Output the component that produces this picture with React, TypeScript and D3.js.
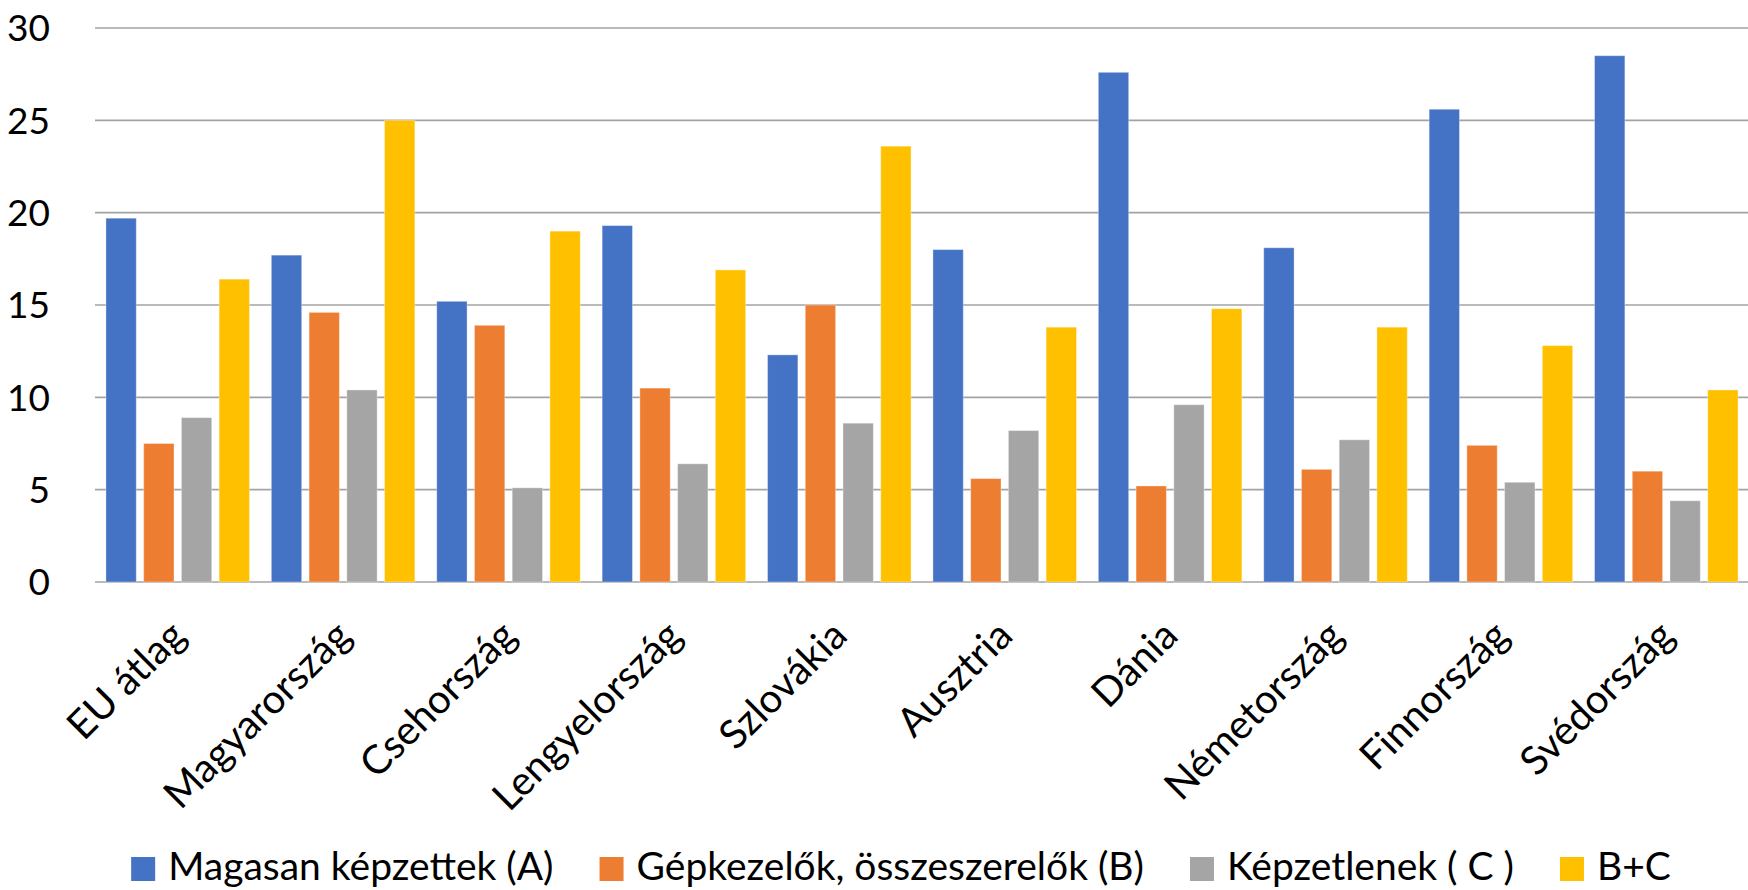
import React, { useEffect, useRef } from 'react';
import * as d3 from 'd3';

const categories = ['EU átlag', 'Magyarország', 'Csehország', 'Lengyelország', 'Szlovákia', 'Ausztria', 'Dánia', 'Németország', 'Finnország', 'Svédország'];
const seriesNames = ['Magasan képzettek (A)', 'Gépkezelők, összeszerelők (B)', 'Képzetlenek ( C )', 'B+C'];
const seriesA = [19.7, 17.7, 15.2, 19.3, 12.3, 18.0, 27.6, 18.1, 25.6, 28.5];
const seriesB = [7.5, 14.6, 13.9, 10.5, 15.0, 5.6, 5.2, 6.1, 7.4, 6.0];
const seriesC = [8.9, 10.4, 5.1, 6.4, 8.6, 8.2, 9.6, 7.7, 5.4, 4.4];
const seriesBC = [16.4, 25.0, 19.0, 16.9, 23.6, 13.8, 14.8, 13.8, 12.8, 10.4];
const yTicks = [0, 5, 10, 15, 20, 25, 30];
const colors = ['#4472C4', '#ED7D31', '#A5A5A5', '#FFC000'];

const W = 1748;
const H = 890;
const FONT = 'Lato, "Open Sans", sans-serif';

export default function App() {
  const ref = useRef<SVGSVGElement>(null);

  useEffect(() => {
    document.body.style.margin = '0';
    const svg = d3.select(ref.current);
    svg.selectAll('*').remove();

    const left = 95, right = 1749, top = 28, bottom = 582;
    const y = d3.scaleLinear().domain([0, 30]).range([bottom, top]);
    const x0 = d3.scaleBand<string>().domain(categories).range([left, right]).padding(0);
    const x1 = d3.scaleBand<string>().domain(seriesNames).range([0, x0.bandwidth()]).paddingInner(0.196).paddingOuter(0.29);

    const series = [seriesA, seriesB, seriesC, seriesBC];

    // gridlines
    svg.append('g').selectAll('line').data(yTicks).join('line')
      .attr('x1', left).attr('x2', W)
      .attr('y1', d => y(d)).attr('y2', d => y(d))
      .attr('stroke', '#a3a3a3').attr('stroke-width', 1.6);

    // y labels
    svg.append('g').selectAll('text').data(yTicks).join('text')
      .attr('x', 50).attr('y', d => y(d))
      .attr('dy', '0.36em')
      .attr('text-anchor', 'end')
      .attr('font-family', FONT).attr('font-size', 37).attr('fill', '#000')
      .text(d => String(d));

    // bars
    const g = svg.append('g');
    categories.forEach((c, ci) => {
      series.forEach((s, si) => {
        const v = s[ci];
        g.append('rect')
          .attr('x', (x0(c) as number) + (x1(seriesNames[si]) as number))
          .attr('y', y(v))
          .attr('width', x1.bandwidth())
          .attr('height', y(0) - y(v))
          .attr('fill', colors[si])
          .attr('stroke', '#ffffff').attr('stroke-opacity', 0.35).attr('stroke-width', 1);
      });
    });

    // category labels
    svg.append('g').selectAll('text').data(categories).join('text')
      .attr('transform', d => `translate(${(x0(d) as number) + x0.bandwidth() / 2 + 10},${bottom + 56}) rotate(-45)`)
      .attr('text-anchor', 'end')
      .attr('font-family', FONT).attr('font-size', 40).attr('fill', '#000')
      .text(d => d);

    // legend
    const lg = svg.append('g');
    const sq = 24, gapSqText = 13, gapItem = 46, ly = 869, baseline = 880;
    const items = seriesNames.map((n, i) => {
      const t = lg.append('text')
        .attr('font-family', FONT).attr('font-size', 39).attr('fill', '#000')
        .attr('y', baseline).text(n);
      const w = (t.node() as SVGTextElement).getComputedTextLength();
      return { t, w, i };
    });
    const total = items.reduce((a, it) => a + sq + gapSqText + it.w, 0) + gapItem * (items.length - 1);
    let cx = 901 - total / 2;
    items.forEach(it => {
      lg.append('rect').attr('x', cx).attr('y', ly - sq / 2).attr('width', sq).attr('height', sq).attr('fill', colors[it.i]);
      it.t.attr('x', cx + sq + gapSqText);
      cx += sq + gapSqText + it.w + gapItem;
    });
  }, []);

  return (
    <svg ref={ref} width={W} height={H} style={{ display: 'block', background: '#fff' }} />
  );
}
